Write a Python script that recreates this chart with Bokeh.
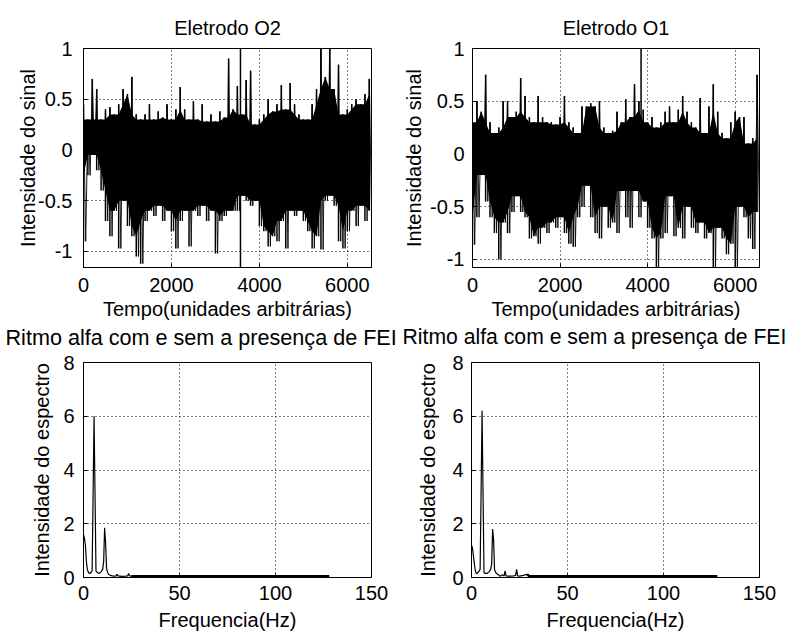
from bokeh.plotting import figure
from bokeh.layouts import column, row
from bokeh.models import Range1d, FixedTicker, NumeralTickFormatter, Title
from bokeh.embed import file_html
from bokeh.resources import INLINE

# ---------------- data ----------------
tempo = list(range(0, 6600, 100))

o2_max = [0.45, 0.3, 0.7, 0.6, 0.3, 0.4, 0.42, 0.35, 0.45, 0.6,
          0.55, 0.72, 0.35, 0.3, 0.35, 0.45, 0.3, 0.38, 0.32, 0.45,
          0.3, 0.4, 0.62, 0.4, 0.3, 0.48, 0.3, 0.45, 0.28, 0.35,
          0.28, 0.38, 0.32, 0.9, 0.4, 0.63, 0.35, 0.69, 0.78, 0.25,
          0.3, 0.35, 0.5, 0.38, 0.45, 0.64, 0.4, 0.66, 0.45, 0.35,
          0.3, 0.3, 0.45, 0.6, 1.05, 0.72, 1.05, 0.6, 0.84, 0.35,
          0.4, 0.45, 0.5, 0.45, 0.55, 0.7]
o2_min = [-0.9, -0.25, -0.05, -0.2, -0.4, -0.7, -0.85, -0.6, -0.97, -0.5,
          -0.75, -0.85, -1.05, -1.12, -0.7, -0.6, -0.65, -0.55, -0.7, -0.6,
          -0.8, -0.97, -0.7, -0.6, -0.95, -0.6, -0.65, -0.55, -0.7, -0.6,
          -1.02, -0.7, -0.65, -0.6, -0.6, -0.6, -0.45, -0.5, -0.55, -0.5,
          -0.75, -0.8, -0.95, -0.85, -0.9, -0.7, -0.97, -0.6, -0.65, -0.6,
          -0.7, -0.8, -0.97, -0.85, -0.98, -0.5, -0.45, -0.55, -0.9, -0.97,
          -0.8, -0.6, -0.75, -0.55, -0.7, -0.6]

o1_max = [0.3, 0.5, 0.4, 0.75, 0.3, 0.2, 0.25, 0.5, 0.5, 0.35,
          0.4, 0.72, 0.55, 0.35, 0.3, 0.55, 0.35, 0.3, 0.3, 0.28,
          0.35, 0.55, 0.3, 0.25, 0.2, 0.45, 0.45, 0.48, 0.45, 0.5,
          0.25, 0.2, 0.22, 0.4, 0.3, 0.52, 0.35, 0.66, 0.5, 0.42,
          0.3, 0.35, 0.25, 0.3, 0.4, 0.45, 0.3, 0.42, 0.55, 0.4,
          0.3, 0.25, 0.53, 0.2, 0.45, 0.66, 0.4, 0.2, 0.15, 0.3,
          0.4, 0.35, 0.35, 0.1, 0.15, 0.75]
o1_min = [-0.86, -0.6, -0.2, -0.45, -0.6, -0.75, -1.0, -0.65, -0.75, -0.55,
          -0.4, -0.55, -0.6, -0.8, -0.78, -0.85, -0.7, -0.75, -0.65, -0.7,
          -0.6, -0.75, -0.85, -0.88, -0.6, -0.5, -0.3, -0.6, -0.75, -0.8,
          -0.5, -0.7, -0.65, -0.75, -0.35, -0.6, -0.7, -0.35, -0.6, -0.45,
          -0.7, -0.8, -1.08, -0.8, -0.75, -0.4, -0.78, -0.7, -0.8, -0.5,
          -0.7, -0.75, -0.65, -0.8, -0.75, -1.08, -0.7, -0.8, -0.95, -0.85,
          -1.08, -0.5, -0.6, -0.8, -0.9, -0.55]

o2_pico_t = [3570]
o2_pico_max = [1.2]
o2_pico_min = [-1.25]
o1_pico_t = [3850]
o1_pico_max = [1.2]
o1_pico_min = [-0.2]

freq_o2 = [0, 0.5, 1, 1.5, 2, 2.5, 3, 3.5, 4, 4.5,
           5, 5.5, 6, 6.5, 7, 8, 9, 10, 10.5, 11,
           11.5, 12, 12.5, 13, 14, 15, 16, 17, 17.5, 18,
           19, 20, 22, 23, 23.5, 24, 25, 26, 128]
esp_o2 = [1.6, 1.45, 1.2, 0.6, 0.3, 0.2, 0.15, 0.15, 0.2, 0.25,
          3.1, 6.0, 3.1, 0.25, 0.2, 0.15, 0.2, 0.3, 0.6, 1.85,
          1.3, 0.35, 0.2, 0.12, 0.08, 0.06, 0.05, 0.06, 0.12, 0.06,
          0.05, 0.04, 0.05, 0.06, 0.15, 0.06, 0.05, 0.05, 0.05]

freq_o1 = [0, 0.5, 1, 1.5, 2, 2.5, 3, 3.5, 4, 4.5,
           5, 5.5, 6, 6.5, 7, 8, 9, 10, 10.5, 11,
           11.5, 12, 12.5, 13, 14, 15, 16, 17, 17.5, 18,
           19, 20, 22, 23, 23.5, 24, 25, 27, 29, 30, 31, 128]
esp_o1 = [1.2, 1.1, 0.8, 0.5, 0.25, 0.15, 0.15, 0.2, 0.25, 0.3,
          3.2, 6.2, 3.2, 0.2, 0.15, 0.15, 0.2, 0.3, 0.5, 1.8,
          1.4, 0.3, 0.2, 0.15, 0.1, 0.05, 0.1, 0.06, 0.25, 0.06,
          0.05, 0.05, 0.06, 0.08, 0.3, 0.06, 0.05, 0.08, 0.12, 0.05, 0.05, 0.05]

tempo_ticks = [0, 2000, 4000, 6000]
sinal_ticks = [-1, -0.5, 0, 0.5, 1]
freq_ticks = [0, 50, 100, 150]
esp_ticks = [0, 2, 4, 6, 8]

titulo_espectro = "Ritmo alfa com e sem a presença de FEI"

# ---------------- styling ----------------
FONT = "Liberation Sans"
FS = "20px"


def make_fig(title, w, h, bl, br, bt, bb, xr, yr, xt, yt, xlab, ylab, yfmt,
             ylab_standoff, ylbl_standoff, xlbl_standoff, xlab_standoff):
    kw = dict(width=w, height=h, x_range=Range1d(*xr), y_range=Range1d(*yr),
              output_backend="svg", toolbar_location=None,
              min_border_left=bl, min_border_right=br,
              min_border_top=bt, min_border_bottom=bb)
    if title is not None:
        kw["title"] = title
    p = figure(**kw)
    if title is not None:
        p.title.align = "center"
        p.title.text_font = FONT
        p.title.text_font_size = FS
        p.title.text_font_style = "normal"
        p.title.text_color = "black"
        p.title.standoff = 20
    p.outline_line_color = "black"
    p.outline_line_alpha = 1
    p.outline_line_width = 1
    p.background_fill_color = "white"
    p.border_fill_color = "white"
    p.xaxis.ticker = FixedTicker(ticks=xt)
    p.yaxis.ticker = FixedTicker(ticks=yt)
    p.xaxis.formatter = NumeralTickFormatter(format="0")
    p.yaxis.formatter = NumeralTickFormatter(format=yfmt)
    for ax in (p.xaxis[0], p.yaxis[0]):
        ax.axis_line_color = "black"
        ax.major_tick_line_color = "black"
        ax.major_tick_in = 4
        ax.major_tick_out = 0
        ax.minor_tick_line_color = None
        ax.major_label_text_font = FONT
        ax.major_label_text_font_size = FS
        ax.major_label_text_color = "black"
        ax.axis_label_text_font = FONT
        ax.axis_label_text_font_size = FS
        ax.axis_label_text_font_style = "normal"
        ax.axis_label_text_color = "black"
    p.xaxis.major_label_standoff = xlbl_standoff
    p.yaxis.major_label_standoff = ylbl_standoff
    p.xaxis.axis_label = xlab
    p.yaxis.axis_label = ylab
    p.xaxis.axis_label_standoff = xlab_standoff
    p.yaxis.axis_label_standoff = ylab_standoff
    for g in (p.xgrid[0], p.ygrid[0]):
        g.grid_line_color = "black"
        g.grid_line_dash = "1 3"
        g.grid_line_width = 1
    p.xgrid.ticker = FixedTicker(ticks=xt)
    p.ygrid.ticker = FixedTicker(ticks=yt)
    return p


def draw_signal(p, t, hi, lo):
    n = len(t)
    core_top = [min(hi[max(i - 1, 0):i + 2]) for i in range(n)]
    core_bot = [max(lo[max(i - 1, 0):i + 2]) for i in range(n)]
    p.varea(x=t, y1=core_bot, y2=core_top, fill_color="black")
    p.segment(x0=t, y0=lo, x1=t, y1=hi, line_color="black", line_width=1.5)
    zx, zy = [], []
    for i in range(n):
        zx += [t[i], t[i] + 50]
        zy += [hi[i], lo[i]]
    p.line(zx, zy, line_color="black", line_width=0.9)


def add_low_title(p, text, offset, size):
    t = Title(text=text, align="left", offset=offset, text_font=FONT,
              text_font_size=size, text_font_style="normal", text_color="black",
              standoff=0)
    p.add_layout(t, "below")


p1 = make_fig("Eletrodo O2", 400, 351, 83, 29, 48, 84, (0, 6550), (-1.158, 1),
              tempo_ticks, sinal_ticks, "Tempo(unidades arbitrárias)",
              "Intensidade do sinal", "0.[0]", -4, 11, 10, 3)
draw_signal(p1, tempo, o2_max, o2_min)
p1.segment(x0=o2_pico_t, y0=o2_pico_min, x1=o2_pico_t, y1=o2_pico_max,
           line_color="black", line_width=1.5)
add_low_title(p1, titulo_espectro, -78, "21.6px")

p2 = make_fig("Eletrodo O1", 392, 351, 71, 33, 48, 84, (0, 6555), (-1.076, 1),
              tempo_ticks, sinal_ticks, "Tempo(unidades arbitrárias)",
              "Intensidade do sinal", "0.[0]", 2, 8, 10, 3)
draw_signal(p2, tempo, o1_max, o1_min)
p2.segment(x0=o1_pico_t, y0=o1_pico_min, x1=o1_pico_t, y1=o1_pico_max,
           line_color="black", line_width=1.5)
add_low_title(p2, titulo_espectro, -70, "21.2px")

p3 = make_fig(None, 400, 282, 83, 29, 11, 53,
              (0, 150), (0, 8), freq_ticks, esp_ticks, "Frequencia(Hz)",
              "Intensidade do espectro", "0", 7, 9, 8, 6)
p3.line(freq_o2, esp_o2, line_color="black", line_width=1.2)
p3.line(freq_o2[-3:], esp_o2[-3:], line_color="black", line_width=2.5)

p4 = make_fig(None, 392, 282, 71, 33, 11, 53,
              (0, 150), (0, 8), freq_ticks, esp_ticks, "Frequencia(Hz)",
              "Intensidade do espectro", "0", 10, 8, 8, 6)
p4.line(freq_o1, esp_o1, line_color="black", line_width=1.2)
p4.line(freq_o1[-4:], esp_o1[-4:], line_color="black", line_width=2.5)

layout = column(row(p1, p2), row(p3, p4))

with open("out.html", "w") as f:
    f.write(file_html(layout, INLINE))
